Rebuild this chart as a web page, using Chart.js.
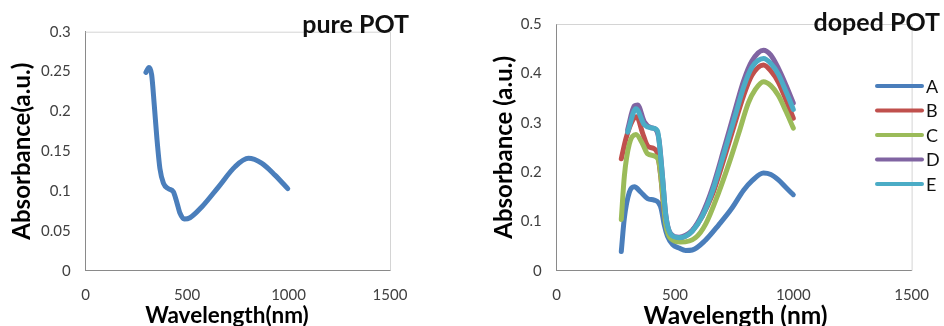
<!DOCTYPE html>
<html>
<head>
<meta charset="utf-8">
<script src="https://cdn.jsdelivr.net/npm/chart.js@4.4.1/dist/chart.umd.min.js"></script>
<style>
  html, body { margin: 0; padding: 0; background: #fff; overflow: hidden; }
  .box { position: absolute; top: 0; }
</style>
</head>
<body>
<div class="box" style="left:0"><canvas id="pureChart" width="472" height="336"></canvas></div>
<div class="box" style="left:472px"><canvas id="dopedChart" width="472" height="336"></canvas></div>
<script>
// ===================== data =====================
const xTicks = [0, 500, 1000, 1500];
const pureTicks = [0, 0.05, 0.1, 0.15, 0.2, 0.25, 0.3];
const dopedTicks = [0, 0.1, 0.2, 0.3, 0.4, 0.5];

// pure POT
const pureWl = [297, 312, 325, 338, 351, 366, 383, 407, 432, 448, 465, 486, 514, 572, 654, 736, 802, 867, 933, 996];
const pureAbs = [0.249, 0.255, 0.246, 0.208, 0.166, 0.128, 0.110, 0.103, 0.099, 0.087, 0.072, 0.065, 0.0665, 0.080, 0.105, 0.1305, 0.141, 0.135, 0.120, 0.103];

// doped POT, samples A-E
const seriesNames = ['A', 'B', 'C', 'D', 'E'];
const seriesColors = ['#4a7ebb', '#c0504d', '#9bbb59', '#8064a2', '#4bacc6'];

const wlA = [273, 286, 307, 328, 356, 384, 412, 430, 442, 454, 468, 490, 517, 545, 573, 629, 685, 741, 790, 825, 874, 905, 937, 970, 1000];
const absA = [0.039, 0.107, 0.159, 0.170, 0.159, 0.146, 0.143, 0.138, 0.125, 0.094, 0.070, 0.053, 0.046, 0.041, 0.042, 0.062, 0.093, 0.127, 0.163, 0.182, 0.198, 0.195, 0.184, 0.168, 0.154];

const wlB = [273, 294, 321, 338, 363, 384, 412, 426, 440, 454, 468, 489, 517, 545, 573, 615, 657, 706, 755, 790, 825, 874, 905, 937, 970, 1000];
const absB = [0.227, 0.270, 0.305, 0.312, 0.279, 0.253, 0.247, 0.237, 0.190, 0.120, 0.082, 0.068, 0.066, 0.070, 0.081, 0.110, 0.153, 0.225, 0.302, 0.355, 0.396, 0.417, 0.405, 0.382, 0.345, 0.309];

const wlC = [273, 286, 307, 335, 363, 384, 419, 433, 447, 461, 482, 524, 587, 630, 685, 730, 769, 810, 839, 874, 905, 937, 970, 1000];
const absC = [0.104, 0.192, 0.257, 0.276, 0.257, 0.237, 0.231, 0.218, 0.159, 0.094, 0.065, 0.058, 0.067, 0.095, 0.159, 0.220, 0.278, 0.340, 0.367, 0.383, 0.375, 0.355, 0.322, 0.289];

const wlD = [300, 328, 342, 370, 398, 419, 433, 447, 461, 482, 517, 545, 573, 615, 657, 706, 755, 790, 825, 874, 905, 937, 970, 1000];
const absD = [0.286, 0.334, 0.336, 0.302, 0.290, 0.286, 0.263, 0.192, 0.114, 0.075, 0.068, 0.072, 0.082, 0.115, 0.166, 0.245, 0.328, 0.385, 0.425, 0.447, 0.437, 0.410, 0.375, 0.340];

const wlE = [300, 335, 370, 405, 426, 433, 447, 461, 482, 517, 545, 573, 615, 657, 706, 755, 790, 825, 874, 905, 937, 970, 1000];
const absE = [0.281, 0.328, 0.296, 0.289, 0.283, 0.262, 0.190, 0.112, 0.074, 0.067, 0.070, 0.080, 0.110, 0.159, 0.236, 0.315, 0.372, 0.412, 0.430, 0.420, 0.398, 0.362, 0.327];

const dopedWl = [wlA, wlB, wlC, wlD, wlE];
const dopedAbs = [absA, absB, absC, absD, absE];

// ===================== helpers =====================
const FONT = 'Lato, "Open Sans", sans-serif';
const toPoints = (xs, ys) => xs.map((x, i) => ({ x: x, y: ys[i] }));

// light top/right frame, axis titles, corner label and (optionally) the legend
const decorPlugin = {
  id: 'decor',
  beforeDatasetsDraw(chart) {
    const { ctx, chartArea: a } = chart;
    ctx.save();
    ctx.strokeStyle = '#d4d4d4';
    ctx.lineWidth = 1;
    ctx.beginPath();
    ctx.moveTo(a.left, a.top + 0.5);
    ctx.lineTo(a.right + 0.5, a.top + 0.5);
    ctx.lineTo(a.right + 0.5, a.bottom);
    ctx.stroke();
    ctx.restore();
  },
  afterDraw(chart, args, opts) {
    const { ctx, chartArea: a } = chart;
    ctx.save();
    ctx.fillStyle = '#000';
    ctx.textBaseline = 'middle';
    ctx.textAlign = 'center';

    // x title
    ctx.font = 'bold ' + opts.xTitleSize + 'px ' + FONT;
    ctx.fillText(opts.xTitle, opts.xTitleX, 316.2);

    // y title, rotated
    ctx.save();
    ctx.translate(opts.yTitleX, (a.top + a.bottom) / 2);
    ctx.rotate(-Math.PI / 2);
    ctx.font = 'bold ' + opts.yTitleSize + 'px ' + FONT;
    ctx.fillText(opts.yTitle, 0, 0);
    ctx.restore();

    // corner label
    ctx.font = 'bold 25px ' + FONT;
    ctx.fillStyle = '#111';
    ctx.textAlign = 'right';
    ctx.textBaseline = 'alphabetic';
    ctx.fillText(opts.label, opts.labelX, opts.labelY);

    if (opts.legend) {
      ctx.font = '18px ' + FONT;
      ctx.textAlign = 'left';
      ctx.textBaseline = 'middle';
      ctx.lineCap = 'round';
      chart.data.datasets.forEach((ds, i) => {
        const y = 86 + i * 24.5;
        ctx.strokeStyle = ds.borderColor;
        ctx.lineWidth = 4;
        ctx.beginPath();
        ctx.moveTo(405, y);
        ctx.lineTo(450, y);
        ctx.stroke();
        ctx.fillStyle = '#111';
        ctx.fillText(ds.label, 454, y + 1);
      });
    }
    ctx.restore();
  }
};

function makeScales(yTicks, yWidth) {
  return {
    x: {
      type: 'linear',
      min: 0,
      max: 1500,
      afterBuildTicks: s => { s.ticks = xTicks.map(v => ({ value: v })); },
      afterFit: s => { s.height = 336 - 270.7; },
      grid: { display: false, drawTicks: false },
      border: { display: true, color: '#8a8a8a', width: 1 },
      ticks: { padding: 15, color: '#404040', font: { family: FONT, size: 15 }, maxRotation: 0, callback: v => String(v) }
    },
    y: {
      type: 'linear',
      min: 0,
      max: yTicks[yTicks.length - 1],
      afterBuildTicks: s => { s.ticks = yTicks.map(v => ({ value: v })); },
      afterFit: s => { s.width = yWidth; },
      grid: { display: false, drawTicks: false },
      border: { display: true, color: '#8a8a8a', width: 1 },
      ticks: { padding: 15, color: '#404040', font: { family: FONT, size: 15 }, callback: v => String(v) }
    }
  };
}

// ===================== pure POT =====================
function renderPureChart() {
  const ctx = document.getElementById('pureChart').getContext('2d');
  new Chart(ctx, {
    type: 'line',
    data: {
      datasets: [{
        label: 'pure POT',
        data: toPoints(pureWl, pureAbs),
        borderColor: '#4a7ebb',
        borderWidth: 5,
        pointRadius: 0,
        cubicInterpolationMode: 'monotone',
        borderCapStyle: 'round',
        borderJoinStyle: 'round',
        fill: false
      }]
    },
    options: {
      responsive: false,
      animation: false,
      layout: { padding: { left: 0, right: 472 - 390, top: 31.7, bottom: 0 } },
      plugins: {
        legend: { display: false },
        tooltip: { enabled: false },
        decor: {
          label: 'pure POT', labelX: 409, labelY: 33, legend: false,
          xTitle: 'Wavelength(nm)', xTitleX: 227, xTitleSize: 22.5,
          yTitle: 'Absorbance(a.u.)', yTitleX: 21.8, yTitleSize: 24
        }
      },
      scales: makeScales(pureTicks, 85.7)
    },
    plugins: [decorPlugin]
  });
}

// ===================== doped POT =====================
function renderDopedChart() {
  const ctx = document.getElementById('dopedChart').getContext('2d');
  const datasets = seriesNames.map((name, i) => ({
    label: name,
    data: toPoints(dopedWl[i], dopedAbs[i]),
    borderColor: seriesColors[i],
    borderWidth: 5,
    pointRadius: 0,
    cubicInterpolationMode: 'monotone',
    borderCapStyle: 'round',
    borderJoinStyle: 'round',
    fill: false,
    order: seriesNames.length - 1 - i   // E drawn on top, as in the original
  }));

  new Chart(ctx, {
    type: 'line',
    data: { datasets },
    options: {
      responsive: false,
      animation: false,
      layout: { padding: { left: 0, right: 472 - 442.3, top: 15, bottom: 0 } },
      plugins: {
        legend: { display: false },
        tooltip: { enabled: false },
        decor: {
          label: 'doped POT', labelX: 468, labelY: 31, legend: true,
          xTitle: 'Wavelength (nm)', xTitleX: 263.5, xTitleSize: 24.5,
          yTitle: 'Absorbance (a.u.)', yTitleX: 32.4, yTitleSize: 24
        }
      },
      scales: makeScales(dopedTicks, 84.7)
    },
    plugins: [decorPlugin]
  });
}

document.addEventListener('DOMContentLoaded', () => {
  renderPureChart();
  renderDopedChart();
});
</script>
</body>
</html>
